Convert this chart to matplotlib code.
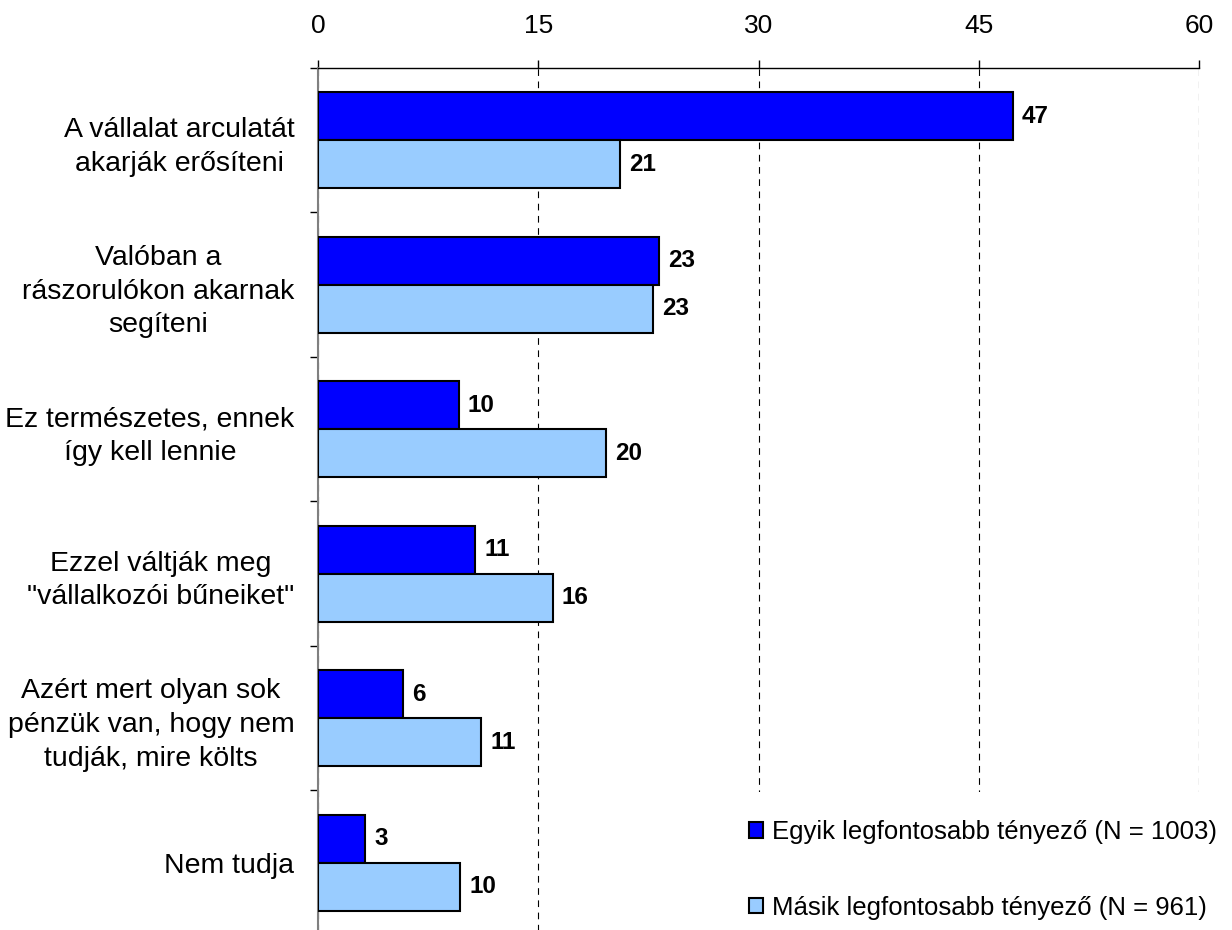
import numpy as np
import matplotlib.pyplot as plt

plt.rcParams['font.family'] = ['Liberation Sans', 'DejaVu Sans']

# Data
categories = [
    "A vállalat arculatát\nakarják erősíteni",
    "Valóban a\nrászorulókon akarnak\nsegíteni",
    "Ez természetes, ennek\nígy kell lennie",
    "Ezzel váltják meg\n\"vállalkozói bűneiket\"",
    "Azért mert olyan sok\npénzük van, hogy nem\ntudják, mire költs",
    "Nem tudja",
]
egyik = [47.3, 23.2, 9.6, 10.7, 5.8, 3.2]
masik = [20.6, 22.8, 19.6, 16.0, 11.1, 9.7]
series_names = ["Egyik legfontosabb tényező (N = 1003)",
                "Másik legfontosabb tényező (N = 961)"]
x_ticks = [0, 15, 30, 45, 60]

dark = "#0000FF"
light = "#99CCFF"

fig = plt.figure(figsize=(12.32, 9.3), dpi=100)
ax = fig.add_axes([318 / 1232, 1 - 935 / 930, (1199 - 318) / 1232, (935 - 68) / 930])

y = np.arange(len(categories)) + 0.5
h = 1 / 3
b1 = ax.barh(y - h / 2, egyik, height=h, color=dark, edgecolor="black", linewidth=1.5,
             label=series_names[0], zorder=3)
b2 = ax.barh(y + h / 2, masik, height=h, color=light, edgecolor="black", linewidth=1.5,
             label=series_names[1], zorder=3)

for bars, vals in [(b1, egyik), (b2, masik)]:
    for bar, v in zip(bars, vals):
        ax.annotate(f"{round(v)}", (v, bar.get_y() + bar.get_height() / 2),
                    xytext=(6.5, 0), textcoords="offset points", ha="left", va="center",
                    fontsize=17.5, fontweight="bold")

ax.set_xlim(0, 60)
ax.set_ylim(len(categories), 0)

# x axis on top
ax.xaxis.tick_top()
ax.set_xticks(x_ticks)
ax.tick_params(axis="x", which="major", length=5.8, width=1, pad=16, labelsize=19)
ax.grid(axis="x", linestyle=(0, (6, 5)), color="black", linewidth=0.8, zorder=1)

# y axis: labels at group centres, marks at boundaries
ax.set_yticks(y)
ax.set_yticklabels(categories, fontsize=20.5, multialignment="center", linespacing=1.38)
ax.set_yticks(np.arange(len(categories) + 1), minor=True)
ax.tick_params(axis="y", which="major", length=0, pad=17)
ax.tick_params(axis="y", which="minor", length=6, width=1, color="black")

for s in ["right", "bottom"]:
    ax.spines[s].set_visible(False)
ax.spines["left"].set_color("#808080")
ax.spines["left"].set_linewidth(1.5)
ax.spines["top"].set_linewidth(1)

leg = fig.legend(handles=[b1, b2], loc="upper left", bbox_to_anchor=(721 / 1232, 1 - 792 / 930),
                 frameon=True, fontsize=18.5, handlelength=0.55, handleheight=0.55,
                 handletextpad=0.35, labelspacing=2.0, borderpad=1.1, borderaxespad=0,
                 fancybox=False)
leg.get_frame().set_facecolor("white")
leg.get_frame().set_edgecolor("none")
leg.get_frame().set_alpha(1)

fig.savefig("out.png", dpi=100)
